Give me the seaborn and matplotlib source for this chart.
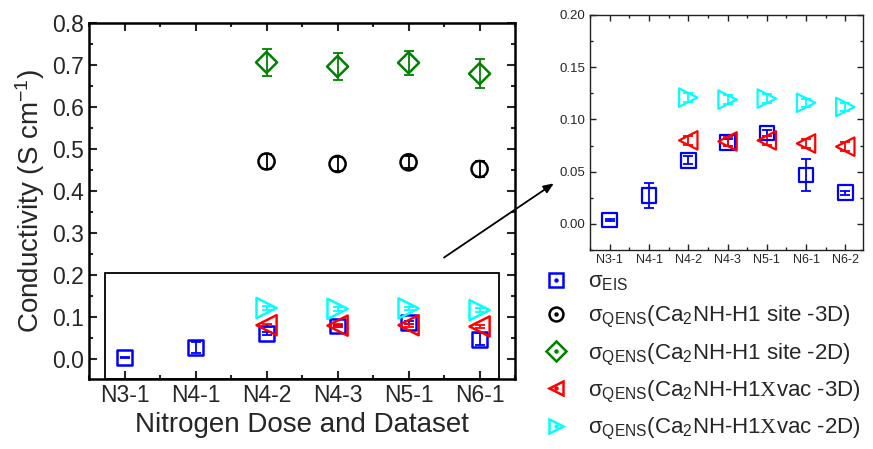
import numpy as np
import pandas as pd
import matplotlib
matplotlib.use("Agg")
import matplotlib.pyplot as plt
import seaborn as sns
from matplotlib.lines import Line2D
from matplotlib.patches import Rectangle, FancyArrowPatch
from matplotlib.ticker import MultipleLocator

sns.set_style("ticks")
plt.rcParams["font.family"] = ["Liberation Sans", "DejaVu Sans"]
plt.rcParams["mathtext.fontset"] = "custom"
plt.rcParams["mathtext.rm"] = "Liberation Sans"
plt.rcParams["mathtext.it"] = "Liberation Sans:italic"
plt.rcParams["mathtext.tt"] = "Liberation Serif"

# ---------------- data ----------------
main_cats = ["N3-1", "N4-1", "N4-2", "N4-3", "N5-1", "N6-1"]
inset_cats = ["N3-1", "N4-1", "N4-2", "N4-3", "N5-1", "N6-1", "N6-2"]

eis_cats = ["N3-1", "N4-1", "N4-2", "N4-3", "N5-1", "N6-1", "N6-2"]
eis_val = [0.004, 0.027, 0.061, 0.078, 0.087, 0.047, 0.030]
eis_err = [0.001, 0.012, 0.004, 0.003, 0.003, 0.015, 0.002]

q_cats = ["N4-2", "N4-3", "N5-1", "N6-1", "N6-2"]
site3d_val = [0.470, 0.464, 0.468, 0.452]
site3d_err = [0.018, 0.016, 0.014, 0.020]
site2d_val = [0.706, 0.696, 0.705, 0.679]
site2d_err = [0.032, 0.032, 0.028, 0.034]
vac3d_val = [0.080, 0.079, 0.080, 0.077, 0.074]
vac3d_err = [0.004, 0.004, 0.004, 0.004, 0.004]
vac2d_val = [0.121, 0.119, 0.120, 0.116, 0.112]
vac2d_err = [0.004, 0.004, 0.004, 0.004, 0.004]

labels = [
    r"σ$_{\mathrm{EIS}}$",
    r"σ$_{\mathrm{QENS}}$(Ca$_2$NH-H1 site -3D)",
    r"σ$_{\mathrm{QENS}}$(Ca$_2$NH-H1 site -2D)",
    r"σ$_{\mathrm{QENS}}$(Ca$_2$NH-H1$\mathtt{X}$vac -3D)",
    r"σ$_{\mathrm{QENS}}$(Ca$_2$NH-H1$\mathtt{X}$vac -2D)",
]
colors = ["#0000ff", "#000000", "#008000", "#ff0000", "#00ffff"]
markers = ["s", "o", "D", "<", ">"]
sizes_main = [115, 135, 115, 210, 210]

series = [
    (eis_cats, eis_val, eis_err),
    (q_cats[:4], site3d_val, site3d_err),
    (q_cats[:4], site2d_val, site2d_err),
    (q_cats, vac3d_val, vac3d_err),
    (q_cats, vac2d_val, vac2d_err),
]

fig = plt.figure(figsize=(8.73, 4.49), dpi=100)
ax = fig.add_axes([0.102, 0.156, 0.488, 0.793])
axi = fig.add_axes([0.676, 0.443, 0.3125, 0.5236])

def draw(axis, cats, sizes, lw, main):
    pos = {c: i for i, c in enumerate(cats)}
    for k, (sc, sv, se) in enumerate(series):
        xs, ys, es = [], [], []
        for c, v, e in zip(sc, sv, se):
            if c in pos:
                xs.append(pos[c]); ys.append(v); es.append(e)
        if not main and k in (1, 2):
            continue
        df = pd.DataFrame({"x": xs, "y": ys})
        axis.errorbar(xs, ys, yerr=es, fmt="none", ecolor=colors[k],
                      elinewidth=1.3, capsize=3.5, capthick=1.3, zorder=2)
        sns.scatterplot(data=df, x="x", y="y", ax=axis, marker=markers[k],
                        s=sizes[k], color=colors[k], facecolor="none",
                        edgecolor=colors[k], linewidth=lw, zorder=3,
                        legend=False)

draw(ax, main_cats, sizes_main, 1.8, True)
draw(axi, inset_cats, [110, 130, 110, 175, 175], 1.6, False)

# main axes styling
ax.set_xlim(-0.5, len(main_cats) - 0.5)
ax.set_ylim(-0.048, 0.8)
ax.set_xticks(range(len(main_cats)))
ax.set_xticklabels(main_cats)
ax.yaxis.set_major_locator(MultipleLocator(0.1))
ax.yaxis.set_minor_locator(MultipleLocator(0.05))
ax.xaxis.set_minor_locator(MultipleLocator(0.5))
ax.set_yticklabels([f"{v:.1f}" for v in ax.get_yticks()])
ax.set_ylim(-0.048, 0.8)
ax.tick_params(which="both", direction="in", top=True, right=True,
               labelsize=16.5, width=1.5)
ax.tick_params(which="major", length=6)
ax.tick_params(which="minor", length=3)
for s in ax.spines.values():
    s.set_linewidth(1.8)
    s.set_color("black")
ax.set_xlabel("Nitrogen Dose and Dataset", fontsize=20, labelpad=4)
ax.set_ylabel(r"Conductivity (S cm$^{-1}$)", fontsize=20, labelpad=4)

ax.add_patch(Rectangle((-0.27, -0.048), 5.54, 0.2535, fill=False,
                       edgecolor="black", linewidth=1.3, zorder=1))

# inset styling
axi.set_xlim(-0.5, len(inset_cats) - 0.55)
axi.set_ylim(-0.025, 0.2)
axi.set_xticks(range(len(inset_cats)))
axi.set_xticklabels(inset_cats)
axi.yaxis.set_major_locator(MultipleLocator(0.05))
axi.yaxis.set_minor_locator(MultipleLocator(0.025))
axi.xaxis.set_minor_locator(MultipleLocator(0.5))
axi.set_yticklabels([f"{v:.2f}" for v in axi.get_yticks()])
axi.set_ylim(-0.025, 0.2)
axi.tick_params(which="both", direction="in", top=True, right=True,
                width=1.0, color="#222222")
axi.tick_params(axis="y", labelsize=9.5)
axi.tick_params(axis="x", labelsize=9, pad=3)
axi.tick_params(which="major", length=4)
axi.tick_params(which="minor", length=2)
for s in axi.spines.values():
    s.set_linewidth(1.0)
    s.set_color("#222222")
axi.set_xlabel("")
axi.set_ylabel("")

# arrow
arr = FancyArrowPatch((0.506, 0.423), (0.637, 0.595), transform=fig.transFigure,
                      arrowstyle="-|>,head_length=6,head_width=2.5",
                      color="black", linewidth=1.3)
fig.add_artist(arr)

# legend
handles = [(Line2D([], [], linestyle="none", marker=m, markersize=10,
                   markerfacecolor="none", markeredgecolor=c, markeredgewidth=1.8),
            Line2D([], [], linestyle="none", marker="o", markersize=2.2,
                   markerfacecolor=c, markeredgecolor=c))
           for m, c in zip(markers, colors)]
fig.legend(handles, labels, loc="upper left", bbox_to_anchor=(0.614, 0.415),
           frameon=False, fontsize=16.0, handlelength=1.0, handletextpad=0.95,
           labelspacing=0.5, borderaxespad=0)

fig.savefig("out.png", dpi=100)
